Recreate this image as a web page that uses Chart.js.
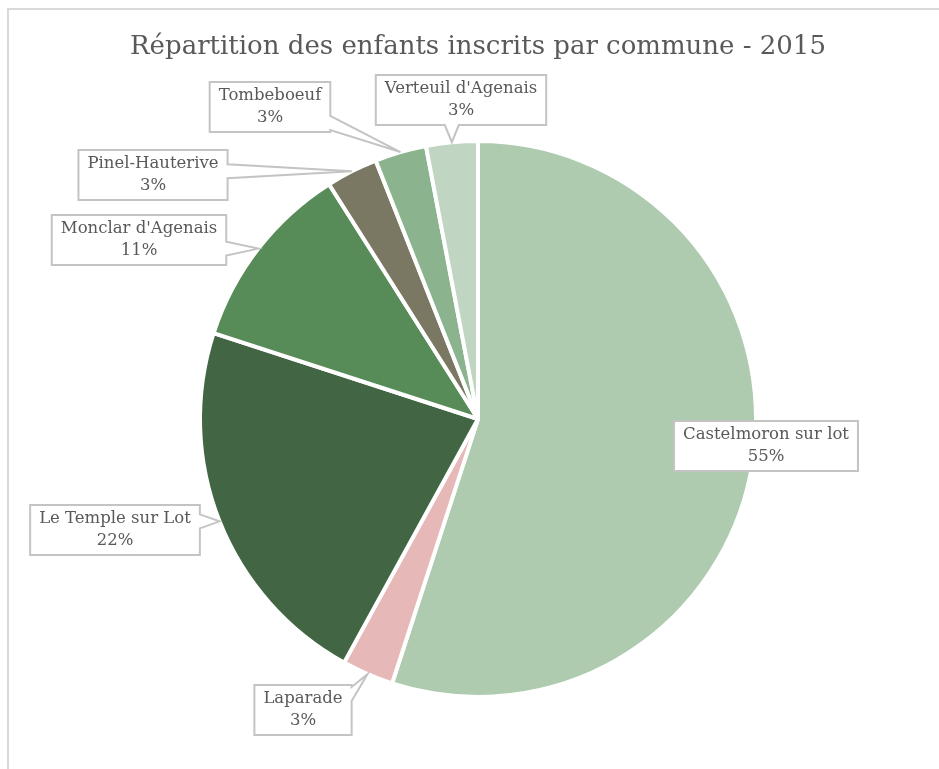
<!DOCTYPE html>
<html>
<head>
<meta charset="utf-8">
<script src="https://cdn.jsdelivr.net/npm/chart.js@4/dist/chart.umd.min.js"></script>
<style>
  html, body { margin: 0; padding: 0; background: #fff; overflow: hidden; }
  #frame { position: absolute; left: 7px; top: 8px; width: 1000px; height: 820px; border: 2px solid #d9d9d9; box-sizing: border-box; }
  #wrap { position: absolute; left: 0; top: 0; width: 939px; height: 769px; }
</style>
</head>
<body>
<div id="frame"></div>
<div id="wrap"><canvas id="pieChart" width="939" height="769"></canvas></div>
<script>
// communes and share of enrolled children (%)
const communes = ['Castelmoron sur lot', 'Laparade', 'Le Temple sur Lot', "Monclar d'Agenais", 'Pinel-Hauterive', 'Tombeboeuf', "Verteuil d'Agenais"];
const shares = [55, 3, 22, 11, 3, 3, 3];
const sliceColors = ['#aecbb0', '#e6b8b7', '#426644', '#578c59', '#7a7862', '#8bb48e', '#c1d6c2'];

// where each label box sits, relative to the pie centre (px)
const labelOffsets = [[288, 27], [-175, 291], [-363, 111], [-339, -179], [-325, -244], [-208, -312], [-17, -319]];
const withPointer = [false, true, true, true, true, true, true];

const labelFont = '16.5px "DejaVu Serif"';
const textColor = '#595959';

// draws the callout boxes with their little pointers
const calloutPlugin = {
    id: 'callouts',
    afterDraw(chart) {
        const ctx = chart.ctx;
        const arcs = chart.getDatasetMeta(0).data;
        const total = shares.reduce((a, b) => a + b, 0);
        ctx.save();
        ctx.font = labelFont;
        arcs.forEach((arc, i) => {
            const p = arc.getProps(['x', 'y', 'startAngle', 'endAngle', 'outerRadius'], true);
            const mid = (p.startAngle + p.endAngle) / 2;
            const tip = [p.x + Math.cos(mid) * p.outerRadius, p.y + Math.sin(mid) * p.outerRadius];
            const cx = p.x + labelOffsets[i][0];
            const cy = p.y + labelOffsets[i][1];
            const line1 = communes[i];
            const line2 = Math.round(shares[i] / total * 100) + '%';
            const w = Math.max(ctx.measureText(line1).width, ctx.measureText(line2).width) + 18;
            const h = 50;
            const x0 = cx - w / 2, x1 = cx + w / 2, y0 = cy - h / 2, y1 = cy + h / 2;

            // outline points, clockwise, with a wedge on the side facing the tip
            let pts = [];
            const bw = 14;
            let side = null;
            if (withPointer[i]) {
                const ex = tip[0] > x1 ? tip[0] - x1 : (tip[0] < x0 ? x0 - tip[0] : 0);
                const ey = tip[1] > y1 ? tip[1] - y1 : (tip[1] < y0 ? y0 - tip[1] : 0);
                if (ex > ey) side = tip[0] > x1 ? 'right' : 'left';
                else side = tip[1] > y1 ? 'bottom' : 'top';
            }
            const clamp = (v, a, b) => Math.min(Math.max(v, a), b);
            pts.push([x0, y0]);
            if (side === 'top') {
                const c = clamp(tip[0], x0 + bw / 2 + 2, x1 - bw / 2 - 2);
                pts.push([c - bw / 2, y0], tip, [c + bw / 2, y0]);
            }
            pts.push([x1, y0]);
            if (side === 'right') {
                const c = clamp(tip[1], y0 + bw / 2 + 2, y1 - bw / 2 - 2);
                pts.push([x1, c - bw / 2], tip, [x1, c + bw / 2]);
            }
            pts.push([x1, y1]);
            if (side === 'bottom') {
                const c = clamp(tip[0], x0 + bw / 2 + 2, x1 - bw / 2 - 2);
                pts.push([c + bw / 2, y1], tip, [c - bw / 2, y1]);
            }
            pts.push([x0, y1]);
            if (side === 'left') {
                const c = clamp(tip[1], y0 + bw / 2 + 2, y1 - bw / 2 - 2);
                pts.push([x0, c + bw / 2], tip, [x0, c - bw / 2]);
            }

            ctx.beginPath();
            pts.forEach((pt, k) => k === 0 ? ctx.moveTo(pt[0], pt[1]) : ctx.lineTo(pt[0], pt[1]));
            ctx.closePath();
            ctx.fillStyle = '#ffffff';
            ctx.fill();
            ctx.lineWidth = 2;
            ctx.strokeStyle = '#c4c4c4';
            ctx.lineJoin = 'miter';
            ctx.stroke();

            ctx.fillStyle = textColor;
            ctx.textAlign = 'center';
            ctx.textBaseline = 'middle';
            ctx.fillText(line1, cx, cy - 11);
            ctx.fillText(line2, cx, cy + 11);
        });
        ctx.restore();
    }
};

document.addEventListener('DOMContentLoaded', () => {
    const ctx = document.getElementById('pieChart').getContext('2d');
    new Chart(ctx, {
        type: 'pie',
        data: {
            labels: communes,
            datasets: [{
                data: shares,
                backgroundColor: sliceColors,
                borderColor: '#ffffff',
                borderWidth: 4
            }]
        },
        options: {
            responsive: false,
            animation: false,
            layout: {
                padding: { left: 17, right: 0, top: 0, bottom: 70 }
            },
            plugins: {
                legend: { display: false },
                tooltip: { enabled: false },
                title: {
                    display: true,
                    text: 'Répartition des enfants inscrits par commune - 2015',
                    color: textColor,
                    font: { family: '"DejaVu Serif"', size: 26, weight: 'normal', lineHeight: 1.2 },
                    padding: { top: 31.4, bottom: 76.4 }
                }
            }
        },
        plugins: [calloutPlugin]
    });
});
</script>
</body>
</html>
